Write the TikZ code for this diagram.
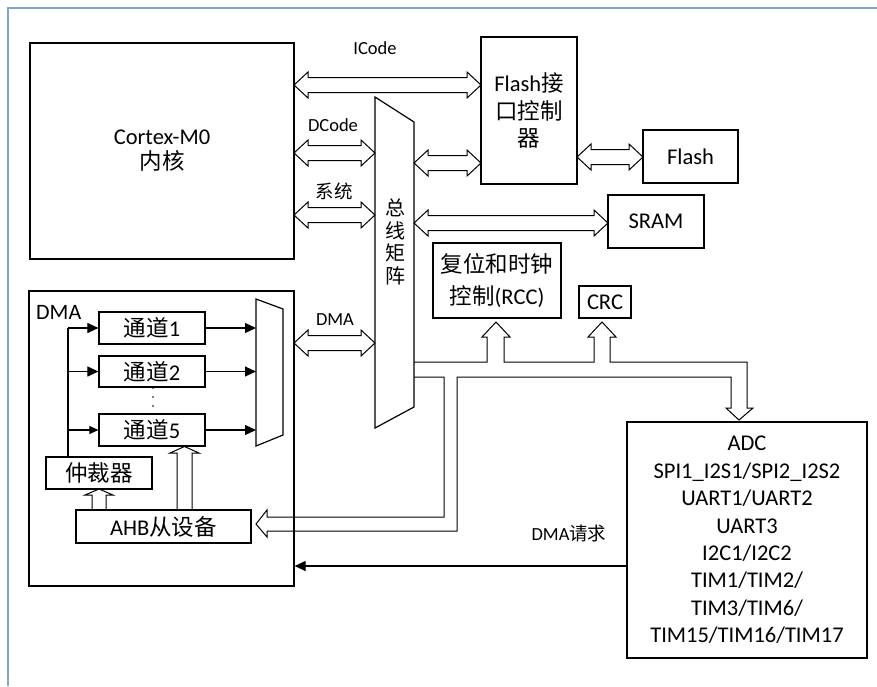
\documentclass[tikz,border=0pt]{standalone}
\usepackage{fontspec}
\setmainfont{Carlito}
\newfontfamily\cjk{Noto Sans CJK SC}
\usetikzlibrary{arrows.meta}
\newcommand{\zh}[1]{{\cjk #1}}
\definecolor{framecol}{RGB}{125,168,208}
% horizontal double hollow arrow: x1, x2, y
\newcommand{\hdbl}[3]{\draw[hollow] (#1,#3) -- ({#1+14},{#3-13}) -- ({#1+14},{#3-7.5}) -- ({#2-14},{#3-7.5}) -- ({#2-14},{#3-13}) -- (#2,#3) -- ({#2-14},{#3+13}) -- ({#2-14},{#3+7.5}) -- ({#1+14},{#3+7.5}) -- ({#1+14},{#3+13}) -- cycle;}
\begin{document}
\begin{tikzpicture}[x=1pt,y=-1pt,line join=miter,
  box/.style={draw,line width=1.2pt,inner sep=0pt,align=center,font=\fontsize{22.5}{27.4}\selectfont},
  hollow/.style={draw,line width=1pt},
  lbl/.style={inner sep=0pt,font=\fontsize{18.5}{20}\selectfont},
  filarrow/.style={line width=1.1pt,-{Triangle[length=11pt,width=10pt]}}]
\useasboundingbox (0,0) rectangle (877,686);
\fill[white] (0,0) rectangle (877,686);
\draw[framecol,line width=2pt] (8,686) -- (8,8) -- (877,8);

% main boxes
\node[box,minimum width=264pt,minimum height=216pt,font=\fontsize{22.5}{25}\selectfont] (cortex) at (162,151) {Cortex-M0\\\zh{内核}};
\node[box,minimum width=96pt,minimum height=147pt] (flashif) at (529,110.5) {Flash\zh{接}\\\zh{口控制}\\\zh{器}};
\node[box,minimum width=95pt,minimum height=53pt] (flash) at (690.5,156.5) {Flash};
\node[box,minimum width=96pt,minimum height=53pt] (sram) at (656,221.5) {SRAM};
\node[box,minimum width=128pt,minimum height=75pt,font=\fontsize{22.5}{32}\selectfont] (rcc) at (497,280.5) {\zh{复位和时钟}\\\zh{控制}(RCC)};
\node[box,minimum width=52pt,minimum height=32pt] (crc) at (605,302) {CRC};
\node[box,minimum width=240pt,minimum height=236pt] (adc) at (747,540) {ADC\\SPI1\_I2S1/SPI2\_I2S2\\UART1/UART2\\UART3\\I2C1/I2C2\\TIM1/TIM2/\\TIM3/TIM6/\\TIM15/TIM16/TIM17};

% bus matrix
\draw[line width=1.2pt] (375,97) -- (414,122) -- (414,407) -- (375,428) -- cycle;
\node[align=center,inner sep=0pt,font=\fontsize{20}{22.5}\selectfont] (matrix) at (395,242) {\zh{总}\\\zh{线}\\\zh{矩}\\\zh{阵}};

% DMA block
\node[box,minimum width=265pt,minimum height=295pt] (dma) at (161.5,438.5) {};
\node[anchor=west,inner sep=0pt,font=\fontsize{22}{25}\selectfont] (dmalbl) at (36,312) {DMA};
\node[box,minimum width=106pt,minimum height=32pt] (ch1) at (152,328) {\zh{通道}1};
\node[box,minimum width=106pt,minimum height=31pt] (ch2) at (152,371.5) {\zh{通道}2};
\node[box,minimum width=106pt,minimum height=32pt] (ch5) at (152,430) {\zh{通道}5};
\node[box,minimum width=106pt,minimum height=32pt] (arb) at (99,473) {\zh{仲裁器}};
\node[box,minimum width=175pt,minimum height=33pt] (ahb) at (163.5,526.5) {AHB\zh{从设备}};
\fill (153,388) circle (0.8pt) (153,397) circle (0.8pt) (153,406) circle (0.8pt);

% DMA multiplexer
\draw[line width=1.2pt] (256,299) -- (283,309) -- (283,435) -- (256,446) -- cycle;
\coordinate (muxL) at (256,0);
\coordinate (arbx) at (68,0);
\draw[filarrow] (ch1.east) -- (ch1.east -| muxL);
\draw[filarrow] (ch2.east) -- (ch2.east -| muxL);
\draw[filarrow] (ch5.east) -- (ch5.east -| muxL);
\draw[line width=1.1pt] (arb.north -| arbx) -- (ch1.west -| arbx);
\draw[filarrow] (ch1.west -| arbx) -- (ch1.west);
\draw[filarrow] (ch2.west -| arbx) -- (ch2.west);
\draw[filarrow,-{Triangle[length=9pt,width=8pt]}] (ch5.west -| arbx) -- (ch5.west);

% hollow up arrows inside DMA
\draw[hollow] (92,510) -- (92,495) -- (85,495) -- (99,489) -- (113,495) -- (106,495) -- (106,510);
\draw[hollow] (177,510) -- (177,453) -- (170,453) -- (184.5,446.5) -- (199,453) -- (192,453) -- (192,510);

% double hollow arrows
\hdbl{294}{481}{85}
\hdbl{294}{375}{153}
\hdbl{294}{375}{215}
\hdbl{414}{481}{163}
\hdbl{414}{608}{223}
\hdbl{577}{643}{157}
\hdbl{294}{375}{343}

% labels
\node[lbl] (licode) at (375,48) {ICode};
\node[lbl] (ldcode) at (333,125) {DCode};
\node[lbl] (lsys) at (334,191) {\zh{系统}};
\node[lbl] (ldma) at (335,320) {DMA};
\node[lbl] (ldreq) at (569,533) {DMA\zh{请求}};

% bus pipe
\draw[hollow] (414,362) -- (487,362) -- (487,337) -- (482,337) -- (496,322) -- (510,337) -- (504,337) -- (504,362)
  -- (594,362) -- (594,337) -- (588,337) -- (602,322) -- (616,337) -- (610,337) -- (610,362)
  -- (747,362) -- (747,408) -- (753,408) -- (739,420) -- (726,408) -- (731,408) -- (731,377)
  -- (457,377) -- (457,531) -- (267,531) -- (267,537) -- (256,524) -- (267,510) -- (267,517)
  -- (444,517) -- (444,377) -- (414,377);

% DMA request
\coordinate (dreq) at (0,566);
\draw[filarrow] (adc.west |- dreq) -- (dma.east |- dreq);
\end{tikzpicture}
\end{document}
